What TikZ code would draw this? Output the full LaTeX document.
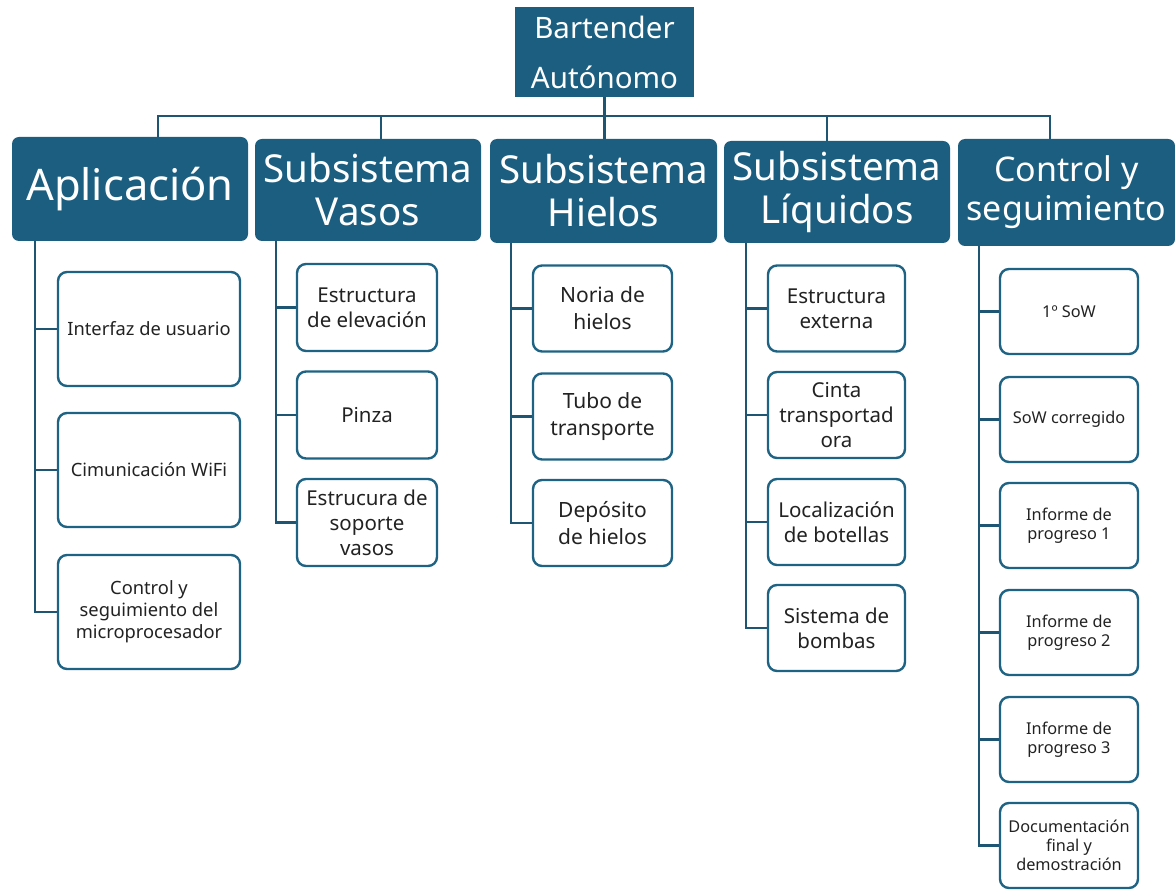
\documentclass[tikz,border=0pt]{standalone}
\usepackage{fontspec}
\setmainfont{Noto Sans}
\definecolor{hdr}{HTML}{1B5E80}
\definecolor{ln}{HTML}{1D5573}
\definecolor{bd}{HTML}{1E6384}
\definecolor{tx}{HTML}{222222}
\tikzset{
  hdrbox/.style={fill=hdr, text=white, rounded corners=7pt, inner sep=0pt, align=center},
  rootbox/.style={fill=hdr, text=white, inner sep=0pt, align=center, minimum width=179pt, minimum height=90pt, font=\fontsize{29.5}{50}\selectfont},
  kid/.style={draw=bd, line width=2.4pt, fill=white, rounded corners=9pt, inner sep=0pt, align=center, text=tx},
  conn/.style={draw=ln, line width=2.6pt},
}
\begin{document}
\begin{tikzpicture}[x=1pt,y=-1pt]
\useasboundingbox (0,0) rectangle (1175,890);
% root
\node[rootbox] (root) at (604.5,52) {Bartender\\Autónomo};
% headers
\node[hdrbox, minimum width=236pt, minimum height=104pt, font=\fontsize{43.5}{48}\selectfont] (apl) at (130,189) {Aplicación};
\node[hdrbox, minimum width=226pt, minimum height=102pt, font=\fontsize{38.5}{43}\selectfont] (vas) at (368,190) {Subsistema\\Vasos};
\node[hdrbox, minimum width=227pt, minimum height=104pt, font=\fontsize{38.5}{43}\selectfont] (hie) at (603.5,191) {Subsistema\\Hielos};
\node[hdrbox, minimum width=226pt, minimum height=102pt, font=\fontsize{38.5}{43}\selectfont] (liq) at (837,192) {Subsistema\\Líquidos};
\node[hdrbox, minimum width=217pt, minimum height=107pt, font=\fontsize{34}{39}\selectfont] (ctl) at (1066.5,192.5) {Control y\\seguimiento};
% bus
\coordinate (d1) at (158,116);
\coordinate (d2) at (381,116);
\coordinate (d4) at (827,116);
\coordinate (d5) at (1050,116);
\draw[conn] (d1 |- apl.north) -- (d1) -- (d5) -- (d5 |- ctl.north);
\draw[conn] (d2) -- (d2 |- vas.north);
\draw[conn] (d4) -- (d4 |- liq.north);
\draw[conn] (root.south) -- (root.south |- hie.north);
% Aplicacion children
\begin{scope}[every node/.style={kid, minimum width=182pt, minimum height=114pt, font=\fontsize{18.3}{22}\selectfont}]
\node (a1) at (149,329) {Interfaz de usuario};
\node (a2) at (149,470) {Cimunicación WiFi};
\node (a3) at (149,612) {Control y\\seguimiento del\\microprocesador};
\end{scope}
\coordinate (ax) at (35,0);
\draw[conn] (ax |- apl.south) |- (a3.west);
\draw[conn] (ax |- a1.west) -- (a1.west);
\draw[conn] (ax |- a2.west) -- (a2.west);
% Vasos children
\begin{scope}[every node/.style={kid, minimum width=140pt, minimum height=87pt, font=\fontsize{20.5}{25}\selectfont}]
\node (v1) at (367,307.5) {Estructura\\de elevación};
\node (v2) at (367,415) {Pinza};
\node (v3) at (367,522.5) {Estrucura de\\soporte\\vasos};
\end{scope}
\coordinate (vx) at (276,0);
\draw[conn] (vx |- vas.south) |- (v3.west);
\draw[conn] (vx |- v1.west) -- (v1.west);
\draw[conn] (vx |- v2.west) -- (v2.west);
% Hielos children
\begin{scope}[every node/.style={kid, minimum width=139pt, minimum height=86pt, font=\fontsize{21}{27}\selectfont}]
\node (h1) at (602.5,308.5) {Noria de\\hielos};
\node (h2) at (602.5,416.5) {Tubo de\\transporte};
\node (h3) at (602.5,523) {Depósito\\de hielos};
\end{scope}
\coordinate (hx) at (511,0);
\draw[conn] (hx |- hie.south) |- (h3.west);
\draw[conn] (hx |- h1.west) -- (h1.west);
\draw[conn] (hx |- h2.west) -- (h2.west);
% Liquidos children
\begin{scope}[every node/.style={kid, minimum width=137pt, minimum height=86pt, font=\fontsize{20.5}{25}\selectfont}]
\node (l1) at (836.5,308.5) {Estructura\\externa};
\node (l2) at (836.5,415) {Cinta\\transportad\\ora};
\node (l3) at (836.5,522) {Localización\\de botellas};
\node (l4) at (836.5,628) {Sistema de\\bombas};
\end{scope}
\coordinate (lx) at (746,0);
\draw[conn] (lx |- liq.south) |- (l4.west);
\draw[conn] (lx |- l1.west) -- (l1.west);
\draw[conn] (lx |- l2.west) -- (l2.west);
\draw[conn] (lx |- l3.west) -- (l3.west);
% Control children
\begin{scope}[every node/.style={kid, minimum width=138pt, minimum height=85pt, font=\fontsize{16.3}{19}\selectfont}]
\node (c1) at (1069,311.5) {1º SoW};
\node (c2) at (1069,419.5) {SoW corregido};
\node (c3) at (1069,525.5) {Informe de\\progreso 1};
\node (c4) at (1069,632.5) {Informe de\\progreso 2};
\node (c5) at (1069,739.5) {Informe de\\progreso 3};
\node (c6) at (1069,845.5) {Documentación\\final y\\demostración};
\end{scope}
\coordinate (cx) at (979,0);
\draw[conn] (cx |- ctl.south) |- (c6.west);
\foreach \n in {c1,c2,c3,c4,c5} \draw[conn] (cx |- \n.west) -- (\n.west);
\end{tikzpicture}
\end{document}
